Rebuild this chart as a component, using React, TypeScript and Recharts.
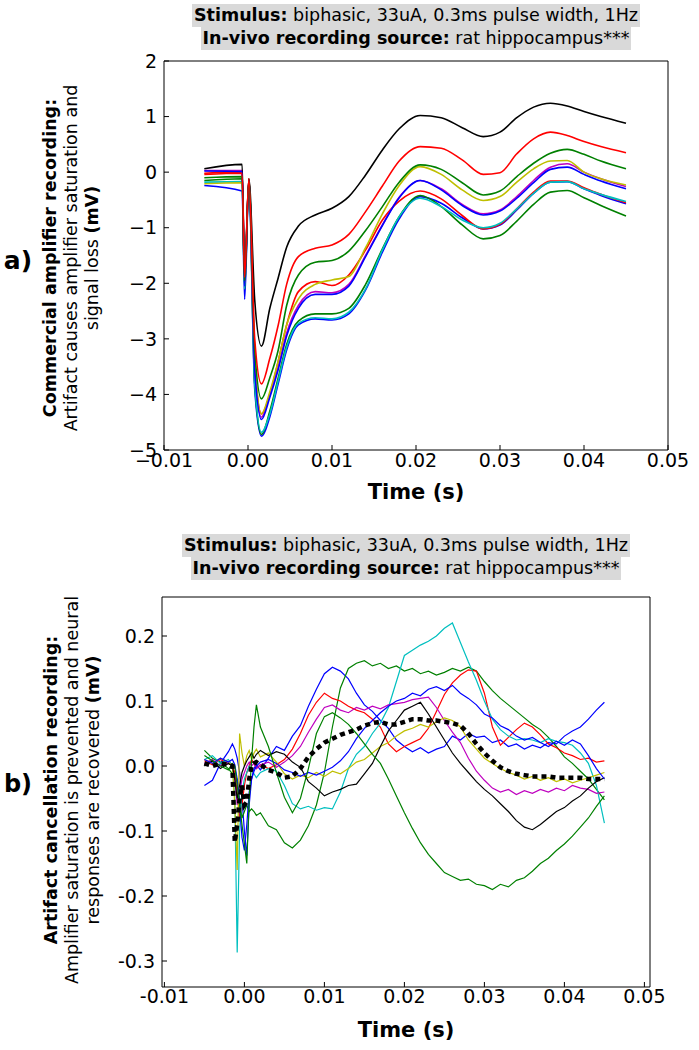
import React from 'react';
import { LineChart, Line, XAxis, YAxis } from 'recharts';

const FONT = '"DejaVu Sans", Verdana, sans-serif';

// ---------- Panel a (commercial amplifier) ----------
const timeA = [-0.0052, -0.0007, -0.0004, 0.0001, 0.0008, 0.0016, 0.0026, 0.0036, 0.0046, 0.006, 0.008, 0.010, 0.012, 0.014, 0.016, 0.018, 0.0205, 0.023, 0.0255, 0.028, 0.030, 0.032, 0.034, 0.036, 0.038, 0.040, 0.042, 0.045];
const aBlueLow = [-0.24, -0.34, -2.29, -0.20, -3.90, -4.75, -4.40, -3.80, -3.20, -2.75, -2.64, -2.66, -2.55, -2.12, -1.44, -0.84, -0.44, -0.56, -0.82, -1.02, -0.95, -0.68, -0.38, -0.18, -0.17, -0.30, -0.42, -0.57];
const aGreenLow = [-0.15, -0.12, -2.10, -0.18, -3.80, -4.72, -4.30, -3.70, -3.10, -2.68, -2.55, -2.55, -2.45, -2.02, -1.38, -0.80, -0.42, -0.62, -0.95, -1.20, -1.14, -0.88, -0.58, -0.36, -0.33, -0.46, -0.60, -0.79];
const aRedLow = [-0.02, 0.00, -1.90, -0.12, -3.40, -4.35, -4.00, -3.40, -2.75, -2.15, -1.97, -2.04, -1.85, -1.40, -0.86, -0.52, -0.34, -0.48, -0.78, -1.02, -0.94, -0.66, -0.36, -0.16, -0.16, -0.28, -0.40, -0.55];
const aCyan = [-0.18, -0.17, -2.10, -0.20, -3.80, -4.68, -4.35, -3.75, -3.15, -2.72, -2.62, -2.64, -2.52, -2.10, -1.40, -0.80, -0.47, -0.62, -0.86, -1.00, -0.92, -0.66, -0.38, -0.18, -0.17, -0.30, -0.40, -0.53];
const aMagenta = [0.03, 0.03, -2.00, -0.15, -3.50, -4.41, -4.00, -3.50, -2.90, -2.40, -2.15, -2.17, -2.02, -1.50, -0.95, -0.45, -0.15, -0.30, -0.58, -0.75, -0.68, -0.44, -0.15, 0.09, 0.15, 0.00, -0.12, -0.26];
const aYellow = [-0.21, -0.19, -2.00, -0.15, -3.40, -4.35, -3.95, -3.40, -2.75, -2.28, -2.02, -1.94, -1.88, -1.36, -0.75, -0.24, 0.10, -0.04, -0.32, -0.51, -0.44, -0.18, 0.06, 0.20, 0.21, 0.00, -0.12, -0.23];
const aBlack = [0.06, 0.14, -1.95, -0.12, -2.30, -3.13, -2.45, -1.90, -1.35, -0.97, -0.77, -0.65, -0.44, -0.05, 0.40, 0.78, 1.02, 0.98, 0.80, 0.64, 0.72, 0.98, 1.17, 1.24, 1.19, 1.09, 1.00, 0.88];
const aBlueHigh = [0.02, 0.01, -2.05, -0.15, -3.55, -4.45, -4.05, -3.55, -2.95, -2.45, -2.20, -2.20, -2.05, -1.52, -0.96, -0.46, -0.15, -0.32, -0.60, -0.77, -0.70, -0.47, -0.19, 0.05, 0.09, -0.04, -0.16, -0.30];
const aGreenHigh = [-0.10, -0.08, -1.95, -0.15, -3.20, -4.08, -3.70, -3.20, -2.40, -1.85, -1.62, -1.59, -1.42, -1.05, -0.62, -0.18, 0.13, 0.05, -0.19, -0.41, -0.34, -0.08, 0.16, 0.34, 0.41, 0.32, 0.20, 0.06];
const aRedHigh = [-0.04, -0.02, -1.89, -0.12, -3.00, -3.81, -3.35, -2.75, -2.02, -1.52, -1.37, -1.31, -1.12, -0.71, -0.25, 0.20, 0.46, 0.43, 0.22, -0.04, -0.01, 0.33, 0.60, 0.72, 0.66, 0.55, 0.46, 0.35];
const xTicksA = [-0.01, 0, 0.01, 0.02, 0.03, 0.04, 0.05];
const yTicksA = [-5, -4, -3, -2, -1, 0, 1, 2];

// ---------- Panel b (artifact cancellation) ----------
const timeB = [-0.005, -0.004, -0.003, -0.002, -0.0015, -0.0012, -0.0009, -0.0006, -0.0003, 0, 0.0003, 0.0006, 0.0009, 0.0012, 0.0015, 0.002,
  0.003, 0.004, 0.005, 0.006, 0.007, 0.008, 0.009, 0.010, 0.011, 0.012, 0.013, 0.014, 0.015, 0.016, 0.017, 0.018, 0.019, 0.020,
  0.021, 0.022, 0.023, 0.024, 0.025, 0.026, 0.027, 0.028, 0.029, 0.030, 0.031, 0.032, 0.033, 0.034, 0.035, 0.036, 0.037, 0.038,
  0.039, 0.040, 0.041, 0.042, 0.043, 0.044, 0.045];
const bBlueA = [-0.030, -0.022, 0.004, 0.022, 0.034, 0.026, 0.012, -0.010, -0.050, -0.100, -0.138, -0.060, -0.020, -0.004, 0.002, -0.006, 0.012, 0.030, 0.024, 0.046, 0.062, 0.092, 0.118, 0.142, 0.152, 0.146, 0.134, 0.112, 0.094, 0.084, 0.070, 0.058, 0.040, 0.030, 0.022, 0.028, 0.020, 0.026, 0.030, 0.046, 0.040, 0.050, 0.044, 0.046, 0.036, 0.040, 0.030, 0.034, 0.026, 0.032, 0.028, 0.036, 0.034, 0.046, 0.054, 0.060, 0.072, 0.086, 0.098];
const bGreenA = [0.024, 0.012, 0.006, -0.004, -0.012, -0.020, -0.020, -0.050, -0.080, -0.070, -0.060, -0.070, -0.066, -0.070, -0.076, -0.072, -0.092, -0.098, -0.118, -0.126, -0.114, -0.092, -0.060, -0.010, 0.060, 0.120, 0.150, 0.158, 0.162, 0.154, 0.158, 0.150, 0.154, 0.146, 0.150, 0.142, 0.146, 0.140, 0.144, 0.150, 0.146, 0.152, 0.146, 0.130, 0.116, 0.104, 0.094, 0.084, 0.074, 0.064, 0.056, 0.044, 0.030, 0.014, 0.004, -0.008, -0.020, -0.036, -0.052];
const bRed = [0.008, 0.002, 0.010, 0.004, 0.000, -0.010, -0.040, -0.080, -0.060, -0.030, -0.010, 0.000, 0.010, 0.004, -0.004, 0.002, -0.004, 0.002, 0.010, 0.026, 0.050, 0.078, 0.098, 0.112, 0.104, 0.100, 0.092, 0.086, 0.082, 0.072, 0.060, 0.034, 0.022, 0.030, 0.036, 0.042, 0.058, 0.084, 0.110, 0.128, 0.140, 0.148, 0.146, 0.112, 0.060, 0.032, 0.044, 0.056, 0.066, 0.060, 0.048, 0.034, 0.028, 0.020, 0.016, 0.010, 0.012, 0.006, 0.008];
const bCyan = [0.010, 0.016, 0.004, 0.010, 0.000, -0.050, -0.287, -0.100, -0.040, -0.020, -0.010, 0.000, -0.006, -0.012, -0.018, -0.010, -0.004, -0.008, -0.030, -0.058, -0.066, -0.062, -0.068, -0.064, -0.066, -0.040, -0.004, 0.018, 0.030, 0.050, 0.066, 0.090, 0.130, 0.170, 0.178, 0.186, 0.192, 0.200, 0.212, 0.220, 0.190, 0.160, 0.132, 0.100, 0.072, 0.056, 0.046, 0.040, 0.042, 0.040, 0.036, 0.042, 0.038, 0.036, 0.032, 0.020, 0.004, -0.030, -0.088];
const bMagenta = [0.004, 0.010, 0.000, 0.006, 0.000, -0.020, -0.060, -0.040, -0.020, -0.010, 0.000, 0.006, 0.000, 0.004, -0.004, 0.002, 0.006, -0.002, 0.006, 0.016, 0.030, 0.052, 0.072, 0.090, 0.094, 0.086, 0.082, 0.090, 0.086, 0.092, 0.088, 0.094, 0.096, 0.098, 0.102, 0.104, 0.106, 0.090, 0.070, 0.052, 0.036, 0.012, -0.008, -0.022, -0.034, -0.040, -0.036, -0.044, -0.038, -0.042, -0.036, -0.040, -0.034, -0.038, -0.030, -0.034, -0.036, -0.042, -0.040];
const bYellow = [0.010, 0.004, 0.012, 0.006, 0.000, -0.060, -0.160, 0.050, 0.020, 0.000, 0.016, 0.024, 0.010, 0.020, 0.026, 0.014, 0.020, 0.006, -0.012, -0.020, -0.014, -0.018, -0.010, -0.016, -0.008, -0.012, -0.004, 0.006, 0.010, 0.020, 0.030, 0.036, 0.046, 0.054, 0.058, 0.064, 0.060, 0.068, 0.074, 0.070, 0.060, 0.040, 0.026, 0.012, 0.004, -0.004, -0.010, -0.014, -0.020, -0.016, -0.022, -0.018, -0.024, -0.020, -0.026, -0.022, -0.018, -0.014, -0.010];
const bBlack = [0.000, 0.008, -0.004, 0.004, 0.000, -0.020, -0.050, -0.030, -0.010, 0.000, 0.008, 0.014, 0.020, 0.012, 0.018, 0.024, 0.016, 0.022, 0.018, 0.006, -0.002, -0.024, -0.034, -0.046, -0.040, -0.036, -0.030, -0.028, -0.012, 0.004, 0.030, 0.054, 0.070, 0.086, 0.092, 0.098, 0.080, 0.060, 0.040, 0.020, 0.004, -0.010, -0.024, -0.036, -0.046, -0.058, -0.070, -0.084, -0.094, -0.098, -0.090, -0.080, -0.070, -0.064, -0.054, -0.046, -0.034, -0.024, -0.018];
const bBlueB = [0.010, 0.004, 0.012, 0.006, 0.010, 0.002, -0.020, -0.060, -0.110, -0.130, -0.090, -0.040, -0.020, -0.008, 0.000, 0.006, 0.010, 0.004, -0.006, -0.010, -0.016, -0.010, -0.014, -0.008, -0.002, 0.008, 0.022, 0.042, 0.058, 0.070, 0.082, 0.092, 0.100, 0.104, 0.112, 0.108, 0.118, 0.122, 0.116, 0.124, 0.112, 0.104, 0.094, 0.080, 0.074, 0.062, 0.056, 0.046, 0.040, 0.044, 0.036, 0.030, 0.038, 0.032, 0.040, 0.034, 0.016, -0.004, -0.020];
const bGreenB = [0.016, 0.008, 0.000, -0.006, 0.004, 0.000, -0.030, -0.060, -0.090, -0.120, -0.150, -0.050, 0.010, 0.060, 0.094, 0.060, 0.030, -0.010, -0.048, -0.072, -0.050, -0.004, 0.050, 0.076, 0.082, 0.074, 0.064, 0.050, 0.034, 0.018, 0.004, -0.020, -0.046, -0.072, -0.096, -0.118, -0.136, -0.150, -0.164, -0.170, -0.176, -0.174, -0.182, -0.184, -0.190, -0.182, -0.186, -0.176, -0.172, -0.162, -0.150, -0.142, -0.130, -0.120, -0.108, -0.094, -0.080, -0.062, -0.046];
const bMean = [0.004, 0.000, 0.004, 0.002, 0.000, -0.117, -0.090, -0.050, -0.030, -0.060, -0.055, -0.020, 0.000, 0.004, 0.006, 0.002, -0.006, -0.010, -0.018, -0.016, -0.004, 0.014, 0.026, 0.036, 0.042, 0.048, 0.052, 0.056, 0.062, 0.066, 0.068, 0.064, 0.064, 0.068, 0.072, 0.072, 0.070, 0.070, 0.068, 0.066, 0.062, 0.050, 0.034, 0.020, 0.008, -0.002, -0.008, -0.012, -0.014, -0.016, -0.016, -0.016, -0.018, -0.018, -0.018, -0.018, -0.020, -0.020, -0.020];
const xTicksB = [-0.01, 0, 0.01, 0.02, 0.03, 0.04, 0.05];
const yTicksB = [-0.3, -0.2, -0.1, 0, 0.1, 0.2];

const C = { b: '#0000ff', g: '#008000', r: '#ff0000', c: '#00bfbf', m: '#bf00bf', y: '#bfbf00', k: '#000000' };

const seriesA = [
  { key: 'b2', color: C.b, values: aBlueLow },
  { key: 'g2', color: C.g, values: aGreenLow },
  { key: 'r2', color: C.r, values: aRedLow },
  { key: 'c', color: C.c, values: aCyan },
  { key: 'm', color: C.m, values: aMagenta },
  { key: 'y', color: C.y, values: aYellow },
  { key: 'k', color: C.k, values: aBlack },
  { key: 'b1', color: C.b, values: aBlueHigh },
  { key: 'g1', color: C.g, values: aGreenHigh },
  { key: 'r1', color: C.r, values: aRedHigh },
];

const seriesB = [
  { key: 'b1', color: C.b, values: bBlueA },
  { key: 'g1', color: C.g, values: bGreenA },
  { key: 'r', color: C.r, values: bRed },
  { key: 'c', color: C.c, values: bCyan },
  { key: 'm', color: C.m, values: bMagenta },
  { key: 'y', color: C.y, values: bYellow },
  { key: 'k', color: C.k, values: bBlack },
  { key: 'b2', color: C.b, values: bBlueB },
  { key: 'g2', color: C.g, values: bGreenB },
];

const dataA = timeA.map((t, i) => {
  const row: Record<string, number> = { t };
  seriesA.forEach((s) => { row[s.key] = s.values[i]; });
  return row;
});
const dataB = timeB.map((t, i) => {
  const row: Record<string, number> = { t, mean: bMean[i] };
  seriesB.forEach((s) => { row[s.key] = s.values[i]; });
  return row;
});

const minus = (s: string) => s.replace('-', '\u2212');
const fmtXA = (v: number) => minus(v.toFixed(2));
const fmtYA = (v: number) => minus(String(v));
const fmtXB = (v: number) => v.toFixed(2);
const fmtYB = (v: number) => v.toFixed(1);

const tickStyle = { fill: '#000', fontSize: 19, fontFamily: FONT };

function TitleBox({ cx, top }: { cx: number; top: number }) {
  const line: React.CSSProperties = { height: 23, lineHeight: '23px', whiteSpace: 'nowrap' };
  const bg: React.CSSProperties = { background: '#d9d9d9', display: 'inline-block', padding: '0 2px' };
  return (
    <div style={{ position: 'absolute', left: cx - 300, top, width: 600, textAlign: 'center', fontFamily: FONT, fontSize: 17.5, color: '#000' }}>
      <div style={line}><span style={bg}><b>Stimulus:</b> biphasic, 33uA, 0.3ms pulse width, 1Hz</span></div>
      <div style={line}><span style={bg}><b>In-vivo recording source:</b> rat hippocampus***</span></div>
    </div>
  );
}

function RotLabel({ cx, cy, children }: { cx: number; cy: number; children: React.ReactNode }) {
  return (
    <div style={{ position: 'absolute', left: cx, top: cy, transform: 'translate(-50%, -50%) rotate(-90deg)', whiteSpace: 'nowrap', textAlign: 'center', fontFamily: FONT, fontSize: 17.5, lineHeight: '21px', color: '#000' }}>
      {children}
    </div>
  );
}

function Abs({ x, y, size, children }: { x: number; y: number; size: number; children: React.ReactNode }) {
  return (
    <div style={{ position: 'absolute', left: x, top: y, transform: 'translate(-50%, -50%)', whiteSpace: 'nowrap', fontFamily: FONT, fontSize: size, fontWeight: 'bold', color: '#000' }}>
      {children}
    </div>
  );
}

export default function App() {
  return (
    <div style={{ position: 'absolute', left: 0, top: 0, width: 699, height: 1050, background: '#fff', overflow: 'hidden' }}>
      <TitleBox cx={416} top={4} />
      <div style={{ position: 'absolute', left: 0, top: 0 }}>
        <LineChart width={699} height={520} data={dataA} margin={{ top: 60, right: 30, bottom: 40, left: 104 }}>
          <XAxis dataKey="t" type="number" domain={[-0.01, 0.05]} ticks={xTicksA} tickFormatter={fmtXA} interval={0}
            tickSize={-5} tickMargin={9} height={30} stroke="#000" tick={tickStyle} allowDataOverflow />
          <XAxis xAxisId="top" orientation="top" type="number" domain={[-0.01, 0.05]} ticks={xTicksA} interval={0}
            tickSize={-5} height={1} stroke="#000" tick={false} allowDataOverflow />
          <YAxis type="number" domain={[-5, 2]} ticks={yTicksA} tickFormatter={fmtYA} interval={0}
            tickSize={-5} tickMargin={12} width={60} stroke="#000" tick={tickStyle} allowDataOverflow />
          <YAxis yAxisId="right" orientation="right" type="number" domain={[-5, 2]} ticks={yTicksA} interval={0}
            tickSize={-5} width={1} stroke="#000" tick={false} allowDataOverflow />
          {seriesA.map((s) => (
            <Line key={s.key} dataKey={s.key} type="monotone" stroke={s.color} strokeWidth={1.6} dot={false} isAnimationActive={false} />
          ))}
        </LineChart>
      </div>
      <RotLabel cx={71} cy={258}>
        <div><b>Commercial amplifier recording:</b></div>
        <div>Artifact causes amplifier saturation and</div>
        <div>signal loss <b>(mV)</b></div>
      </RotLabel>
      <Abs x={18} y={260} size={25}>a)</Abs>
      <Abs x={416} y={492} size={21}>Time (s)</Abs>

      <TitleBox cx={406} top={534} />
      <div style={{ position: 'absolute', left: 0, top: 520 }}>
        <LineChart width={699} height={530} data={dataB} margin={{ top: 76, right: 48, bottom: 33, left: 102 }}>
          <XAxis dataKey="t" type="number" domain={[-0.0103, 0.0507]} ticks={xTicksB} tickFormatter={fmtXB} interval={0}
            tickSize={-5} tickMargin={8} height={30} stroke="#000" tick={tickStyle} allowDataOverflow />
          <XAxis xAxisId="top" orientation="top" type="number" domain={[-0.0103, 0.0507]} ticks={xTicksB} interval={0}
            tickSize={-5} height={1} stroke="#000" tick={false} allowDataOverflow />
          <YAxis type="number" domain={[-0.34, 0.26]} ticks={yTicksB} tickFormatter={fmtYB} interval={0}
            tickSize={-5} tickMargin={12} width={60} stroke="#000" tick={tickStyle} allowDataOverflow />
          <YAxis yAxisId="right" orientation="right" type="number" domain={[-0.34, 0.26]} ticks={yTicksB} interval={0}
            tickSize={-5} width={1} stroke="#000" tick={false} allowDataOverflow />
          {seriesB.map((s) => (
            <Line key={s.key} dataKey={s.key} type="linear" stroke={s.color} strokeWidth={1.2} dot={false} isAnimationActive={false} />
          ))}
          <Line dataKey="mean" type="linear" stroke="#000" strokeWidth={4.5} strokeDasharray="5 4" dot={false} isAnimationActive={false} />
        </LineChart>
      </div>
      <RotLabel cx={72} cy={790}>
        <div><b>Artifact cancellation recording:</b></div>
        <div>Amplifier saturation is prevented and neural</div>
        <div>responses are recovered <b>(mV)</b></div>
      </RotLabel>
      <Abs x={18} y={784} size={24}>b)</Abs>
      <Abs x={406} y={1030} size={21}>Time (s)</Abs>
    </div>
  );
}
